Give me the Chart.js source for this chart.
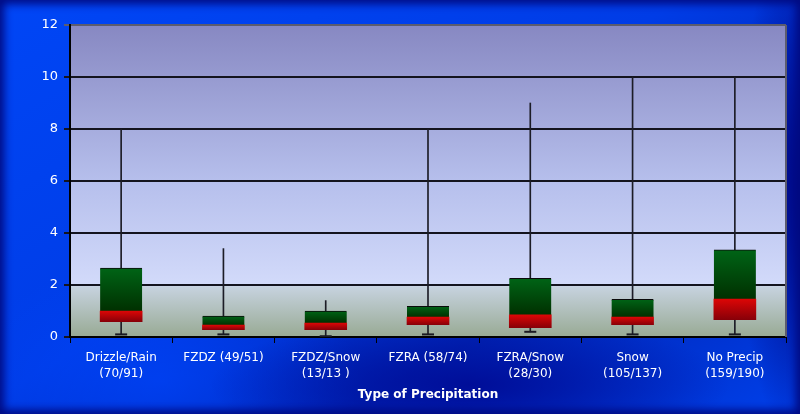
<!DOCTYPE html>
<html>
<head>
<meta charset="utf-8">
<script src="https://cdn.jsdelivr.net/npm/chart.js@4"></script>
<style>
  html, body { margin: 0; padding: 0; }
  body { width: 800px; height: 414px; overflow: hidden; background: #000a80; }
  #wrap {
    position: absolute; left: 0; top: 0; width: 800px; height: 414px;
    background:
      radial-gradient(ellipse 260px 70px at 470px 385px, rgba(0,12,150,0.95), rgba(0,12,150,0)),
      radial-gradient(ellipse 70px 260px at 805px 190px, rgba(0,6,130,1), rgba(0,6,130,0)),
      radial-gradient(ellipse 200px 120px at 160px 380px, rgba(0,70,255,0.6), rgba(0,70,255,0)),
      linear-gradient(150deg, #0046f6 0%, #003ce6 45%, #0026b8 70%, #0040ea 100%);
    box-shadow: inset 0 0 8px 4px #000a80;
  }
</style>
</head>
<body>
<div id="wrap"><canvas id="chart" width="800" height="414"></canvas></div>
<script>
const categories = [
  ['Drizzle/Rain', '(70/91)'],
  'FZDZ (49/51)',
  ['FZDZ/Snow', '(13/13 )'],
  'FZRA (58/74)',
  ['FZRA/Snow', '(28/30)'],
  ['Snow', '(105/137)'],
  ['No Precip', '(159/190)']
];
const minValues    = [0.1, 0.1, 0.03, 0.1, 0.2, 0.1, 0.1];
const q1Values     = [0.59, 0.28, 0.28, 0.47, 0.36, 0.47, 0.67];
const medianValues = [1.0, 0.46, 0.54, 0.77, 0.85, 0.77, 1.46];
const q3Values     = [2.65, 0.8, 1.0, 1.18, 2.26, 1.45, 3.35];
const maxValues    = [8, 3.4, 1.4, 8, 9, 10, 10];
const yTicks = [0, 2, 4, 6, 8, 10, 12];

const whiskers = minValues.map((v, i) => [v, maxValues[i]]);
const lowerBox = q1Values.map((v, i) => [v, medianValues[i]]);
const upperBox = medianValues.map((v, i) => [v, q3Values[i]]);

// vertical gradient across each box segment
function boxFill(topColor, bottomColor) {
  return (c) => {
    const chart = c.chart;
    const y = chart.scales && chart.scales.y;
    if (!y || c.type !== 'data' || !c.raw) return topColor;
    const p0 = y.getPixelForValue(c.raw[1]);
    const p1 = y.getPixelForValue(c.raw[0]);
    if (!isFinite(p0) || !isFinite(p1) || p0 === p1) return topColor;
    const g = chart.ctx.createLinearGradient(0, p0, 0, p1);
    g.addColorStop(0, topColor);
    g.addColorStop(1, bottomColor);
    return g;
  };
}

const plotBg = {
  id: 'plotBg',
  beforeDraw(chart) {
    const { ctx, chartArea: a } = chart;
    const g = ctx.createLinearGradient(0, a.top, 0, a.bottom);
    g.addColorStop(0, '#8788c2');
    g.addColorStop(0.5, '#b6bfec');
    g.addColorStop(0.83, '#d2dafa');
    g.addColorStop(0.84, '#c6d2de');
    g.addColorStop(1, '#98aa94');
    ctx.save();
    ctx.fillStyle = g;
    ctx.fillRect(a.left, a.top, a.width, a.height);
    ctx.restore();
  },
  afterDraw(chart) {
    const { ctx, chartArea: a } = chart;
    ctx.save();
    ctx.strokeStyle = '#5c5c6e';
    ctx.lineWidth = 2;
    ctx.beginPath();
    ctx.moveTo(a.right, a.top);
    ctx.lineTo(a.right, a.bottom);
    ctx.stroke();
    ctx.restore();
  }
};

const font = { family: '"DejaVu Sans", Verdana, sans-serif', size: 12, lineHeight: 1.35 };

new Chart(document.getElementById('chart').getContext('2d'), {
  data: {
    labels: categories,
    datasets: [
      {
        type: 'bar',
        data: whiskers,
        backgroundColor: '#1c1c26',
        barThickness: 1,
        grouped: false,
        order: 3
      },
      {
        type: 'bar',
        data: lowerBox,
        backgroundColor: boxFill('#dc0606', '#880008'),
        barThickness: 42,
        grouped: false,
        order: 2
      },
      {
        type: 'bar',
        data: upperBox,
        backgroundColor: boxFill('#006416', '#003000'),
        borderColor: '#0a0a0a',
        borderWidth: { top: 1, left: 0, right: 0, bottom: 0 },
        borderSkipped: false,
        barThickness: 42,
        grouped: false,
        order: 2
      },
      {
        type: 'line',
        data: minValues,
        showLine: false,
        pointStyle: 'line',
        pointRadius: 6,
        pointBorderWidth: 2,
        pointBorderColor: '#1a1a22',
        order: 1
      }
    ]
  },
  options: {
    responsive: false,
    animation: false,
    layout: { padding: { top: 25, right: 14, left: 0, bottom: 12 } },
    plugins: { legend: { display: false }, tooltip: { enabled: false } },
    scales: {
      x: {
        offset: true,
        grid: {
          offset: true,
          drawOnChartArea: false,
          tickLength: 6,
          color: '#000'
        },
        border: { color: '#000', width: 2 },
        ticks: {
          color: '#ffffff',
          font: font,
          maxRotation: 0,
          autoSkip: false,
          padding: 7
        },
        title: {
          display: true,
          text: 'Type of Precipitation',
          color: '#ffffff',
          font: { family: font.family, size: 12, weight: 'bold' },
          padding: { top: 4, bottom: 0 }
        },
        afterFit(s) { s.height = 65; }
      },
      y: {
        min: 0,
        max: 12,
        afterBuildTicks(s) { s.ticks = yTicks.map(v => ({ value: v })); },
        grid: {
          color: (c) => c.tick && c.tick.value === 12 ? '#5c5c6e' : '#14141e',
          lineWidth: 2,
          tickLength: 6
        },
        border: { color: '#000', width: 2 },
        ticks: { color: '#ffffff', font: { family: font.family, size: 13 }, padding: 6 },
        afterFit(s) { s.width = 70; }
      }
    }
  },
  plugins: [plotBg]
});
</script>
</body>
</html>
